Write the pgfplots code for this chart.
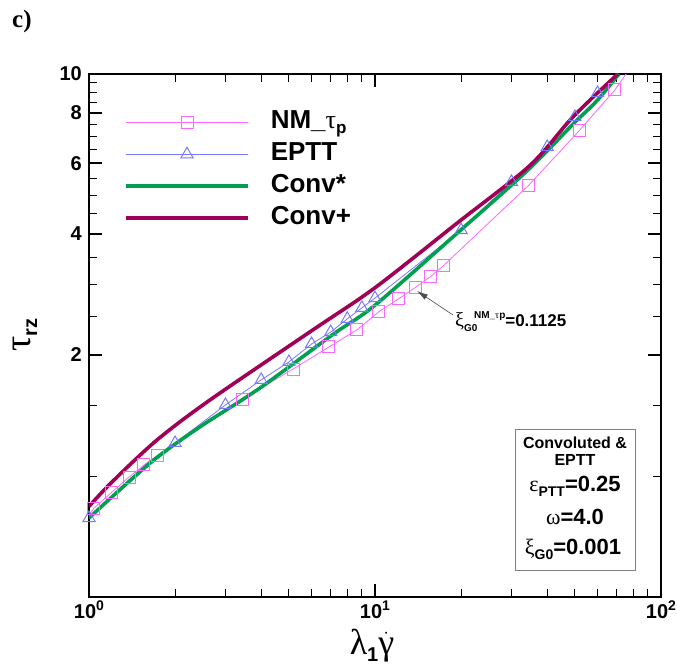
\documentclass[border=0pt]{standalone}
\usepackage{fontspec}
\setmainfont{Liberation Sans}
\newfontfamily\greek{Liberation Serif}
\usepackage{pgfplots}
\pgfplotsset{compat=1.18}
\usetikzlibrary{arrows.meta}
\definecolor{nmc}{RGB}{255,102,255}
\definecolor{epc}{RGB}{120,120,255}
\definecolor{csc}{RGB}{0,160,80}
\definecolor{cpc}{RGB}{160,0,85}
\newcommand{\fs}[1]{\fontsize{#1bp}{#1bp}\selectfont}
\begin{document}
\begin{tikzpicture}
\useasboundingbox (0,0) rectangle (677bp,668bp);
\begin{axis}[
  at={(89bp,71bp)}, anchor=south west,
  scale only axis, width=572bp, height=523bp,
  xmode=log, ymode=log,
  xmin=1, xmax=100, ymin=0.5, ymax=10,
  xtick={1,10,100},
  xticklabels={10\raisebox{8bp}{\fs{14}0},10\raisebox{8bp}{\fs{14}1},10\raisebox{8bp}{\fs{14}2}},
  minor xtick={2,3,4,5,6,7,8,9,20,30,40,50,60,70,80,90},
  ytick={2,4,6,8,10},
  yticklabels={2,4,6,8,10},
  minor ytick={1,1.5,2.5,3,3.5,4.5,5,5.5,6.5,7,7.5,8.5,9,9.5},
  tick align=inside,
  major tick length=13bp, minor tick length=8bp,
  major tick style={line width=2.2bp, black},
  minor tick style={line width=0.9bp, black},
  axis line style={line width=2.5bp},
  ticklabel style={font=\fs{20}\bfseries},
  xticklabel style={inner sep=0pt, yshift=-4bp},
  yticklabel style={inner sep=0pt, xshift=-7bp},
  legend style={at={(0.0612,0.931)}, anchor=north west, draw=none, fill=none,
    font=\fs{26}\bfseries, inner sep=0pt, row sep=8bp, column sep=21bp,
    nodes={inner sep=0pt, text height=18bp, text depth=6bp}},
  legend cell align=left,
  legend image code/.code={\draw[mark repeat=2,mark phase=2,#1] plot coordinates {(0bp,0bp) (61bp,0bp) (122bp,0bp)};},
]
% NM_tau_p line
\addplot[nmc, line width=0.8bp, forget plot] coordinates {
(1,0.80) (1.041,0.832) (1.203,0.912) (1.380,0.994) (1.557,1.065) (1.729,1.122)
(3.43,1.554) (5.17,1.845) (6.90,2.094) (8.65,2.31) (10.3,2.56) (12.1,2.76)
(13.8,2.94) (15.6,3.13) (17.3,3.33) (34.5,5.29) (51.7,7.22) (69.0,9.13) (75.5,10)
};
\addplot[nmc, only marks, mark=square, mark size=6bp, mark options={line width=1bp, fill=none}, forget plot] coordinates {
(1.041,0.832) (1.203,0.912) (1.380,0.994) (1.557,1.065) (1.729,1.122)
(3.43,1.554) (5.17,1.845) (6.90,2.094) (8.65,2.31) (10.3,2.56) (12.1,2.76)
(13.8,2.94) (15.6,3.13) (17.3,3.33) (34.5,5.29) (51.7,7.22) (69.0,9.13)
};
% EPTT
\addplot[epc, line width=0.8bp, mark=triangle, mark size=7bp, mark options={line width=1bp, fill=none}, forget plot] coordinates {
(1,0.786) (2,1.208) (3,1.502) (4,1.734) (5,1.922) (6,2.13) (7,2.28) (8,2.46)
(9,2.62) (10,2.77) (20,4.09) (30,5.39) (40,6.58) (50,7.82) (60,8.97)
};
% Conv*
\addplot[csc, line width=3.6bp, smooth, forget plot] coordinates {
(1,0.786) (1.634,1.077) (2.44,1.324) (3.96,1.655) (7.13,2.25) (10,2.66)
(19.4,4.02) (34.0,5.74) (49.2,7.50) (59.7,8.58) (71.3,10)
};
% Conv+
\addplot[cpc, line width=3.6bp, smooth, forget plot] coordinates {
(1,0.84) (1.203,0.966) (1.729,1.229) (2.65,1.546) (6.07,2.31) (10,2.94)
(19.4,4.26) (34.8,5.92) (49.2,7.82) (70.6,10)
};
\addlegendimage{nmc, line width=0.8bp, mark=square, mark size=6bp, mark options={line width=1bp, fill=none}}
\addlegendentry{NM\_{\mdseries\greek τ}\raisebox{-5bp}{\fs{17}p}}
\addlegendimage{epc, line width=0.8bp, mark=triangle, mark size=7bp, mark options={line width=1bp, fill=none}}
\addlegendentry{EPTT}
\addlegendimage{csc, line width=3.6bp}
\addlegendentry{Conv*}
\addlegendimage{cpc, line width=3.6bp}
\addlegendentry{Conv+}
\end{axis}
% panel label
\node[anchor=base west, inner sep=0pt, font=\greek\bfseries\fs{25}] at (12bp,640bp) {c)};
% axis labels
\node[anchor=base, inner sep=0pt] at (372bp,14bp) {{\greek\fs{36}λ}\raisebox{-7bp}{\fs{20}\bfseries 1}{\greek\fs{36}$\dot{\hbox{γ}}$}};
\node[anchor=center, inner sep=0pt, rotate=90] at (25bp,333bp) {{\greek\fs{38}τ}\raisebox{-7bp}{\fs{20}\bfseries rz}};
% parameter box
\draw[gray, line width=0.8bp] (515bp,98bp) rectangle (635bp,239bp);
\node[anchor=base, inner sep=0pt, font=\fs{16}\bfseries] at (575bp,219bp) {Convoluted \&};
\node[anchor=base, inner sep=0pt, font=\fs{16}\bfseries] at (575bp,202bp) {EPTT};
\node[anchor=base, inner sep=0pt, font=\fs{22}\bfseries] at (575bp,176bp) {{\mdseries\greek ε}\raisebox{-5bp}{\fs{14}PTT}=0.25};
\node[anchor=base, inner sep=0pt, font=\fs{22}\bfseries] at (575bp,143bp) {{\mdseries\greek ω}=4.0};
\node[anchor=base, inner sep=0pt, font=\fs{22}\bfseries] at (573bp,113bp) {{\mdseries\greek ξ}\raisebox{-5bp}{\fs{14}G0}=0.001};
% annotation
\draw[-{Latex[length=11bp,width=6bp]}, line width=0.6bp, black!70] (453bp,353bp) -- (417bp,377bp);
\node[anchor=base west, inner sep=0pt, font=\bfseries] at (455bp,341bp) {{\mdseries\greek\fs{20}ξ}\makebox[0pt][l]{\raisebox{-5bp}{\fs{10}G0}}\hspace{10bp}\raisebox{8bp}{\fs{10}NM\_{\mdseries\greek τ}p}\fs{17}=0.1125};
\end{tikzpicture}
\end{document}
